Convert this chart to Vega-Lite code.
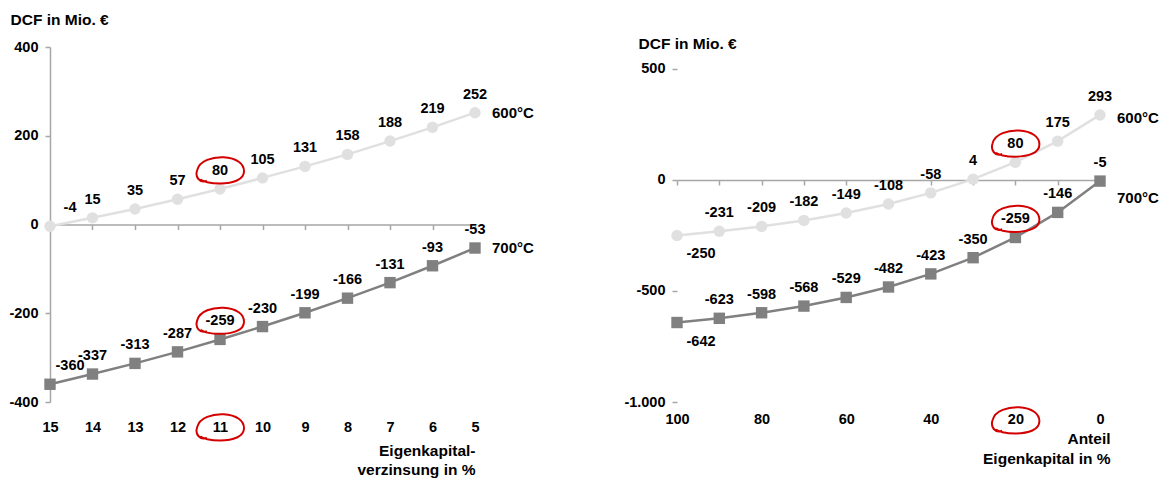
{
  "$schema": "https://vega.github.io/schema/vega-lite/v6.json",
  "padding": {"left": 8, "top": 12, "right": 0, "bottom": 0},
  "bounds": "flush",
  "spacing": 202,
  "config": {
    "font": "Liberation Sans",
    "view": {"stroke": null},
    "axis": {"labelFont": "Liberation Sans", "labelFontSize": 14.5, "labelFontWeight": "bold", "labelColor": "#000000", "labelFlush": false, "titleFont": "Liberation Sans", "titleFontSize": 15.5, "titleFontWeight": "bold", "titleColor": "#000000", "domainColor": "#a6a6a6", "domainWidth": 1.5, "tickColor": "#a6a6a6", "tickWidth": 1.5, "tickSize": 5, "grid": false},
    "text": {"font": "Liberation Sans", "fontSize": 14.5, "fontWeight": "bold", "color": "#000000"}
  },
  "hconcat": [
    {
      "width": 425,
      "height": 355,
      "data": {"values": [
        {"rate": 15, "series": "600°C", "dcf": -4},
        {"rate": 14, "series": "600°C", "dcf": 15},
        {"rate": 13, "series": "600°C", "dcf": 35},
        {"rate": 12, "series": "600°C", "dcf": 57},
        {"rate": 11, "series": "600°C", "dcf": 80},
        {"rate": 10, "series": "600°C", "dcf": 105},
        {"rate": 9, "series": "600°C", "dcf": 131},
        {"rate": 8, "series": "600°C", "dcf": 158},
        {"rate": 7, "series": "600°C", "dcf": 188},
        {"rate": 6, "series": "600°C", "dcf": 219},
        {"rate": 5, "series": "600°C", "dcf": 252},
        {"rate": 15, "series": "700°C", "dcf": -360},
        {"rate": 14, "series": "700°C", "dcf": -337},
        {"rate": 13, "series": "700°C", "dcf": -313},
        {"rate": 12, "series": "700°C", "dcf": -287},
        {"rate": 11, "series": "700°C", "dcf": -259},
        {"rate": 10, "series": "700°C", "dcf": -230},
        {"rate": 9, "series": "700°C", "dcf": -199},
        {"rate": 8, "series": "700°C", "dcf": -166},
        {"rate": 7, "series": "700°C", "dcf": -131},
        {"rate": 6, "series": "700°C", "dcf": -93},
        {"rate": 5, "series": "700°C", "dcf": -53}
      ]},
      "encoding": {
        "x": {"field": "rate", "type": "quantitative",
          "scale": {"domain": [5, 15], "reverse": true, "nice": false, "zero": false},
          "axis": {"values": [5, 6, 7, 8, 9, 10, 11, 12, 13, 14, 15], "offset": -177.5, "labelPadding": 191, "labelExpr": "toString(datum.value)",
            "title": ["Eigenkapital-", "verzinsung in %"], "titleX": 425, "titleY": 219, "titleAlign": "right", "titleBaseline": "top", "titleLineHeight": 19}},
        "y": {"field": "dcf", "type": "quantitative",
          "scale": {"domain": [-400, 400], "nice": false},
          "axis": {"values": [-400, -200, 0, 200, 400], "labelPadding": 7, "labelExpr": "toString(datum.value)",
            "title": "DCF in Mio. €", "titleAngle": 0, "titleX": -40, "titleY": -28, "titleAlign": "left", "titleBaseline": "middle"}},
        "color": {"field": "series", "type": "nominal", "scale": {"domain": ["600°C", "700°C"], "range": ["#e0e0e0", "#808080"]}, "legend": null}
      },
      "layer": [
        {"mark": {"type": "line", "strokeWidth": 2.5}},
        {"mark": {"type": "point", "filled": true, "opacity": 1, "size": 130},
          "encoding": {"shape": {"field": "series", "type": "nominal", "scale": {"domain": ["600°C", "700°C"], "range": ["circle", "square"]}, "legend": null}}},
        {"transform": [{"filter": "datum.rate != 15"}],
          "mark": {"type": "text", "dy": -18, "baseline": "middle"},
          "encoding": {"text": {"field": "dcf", "type": "nominal"}, "color": {"value": "#000000"}}},
        {"transform": [{"filter": "datum.rate == 15"}],
          "mark": {"type": "text", "dx": 20, "dy": -18, "baseline": "middle"},
          "encoding": {"text": {"field": "dcf", "type": "nominal"}, "color": {"value": "#000000"}}},
        {"transform": [{"filter": "datum.rate == 5"}],
          "mark": {"type": "text", "dx": 17, "align": "left", "baseline": "middle", "fontSize": 15},
          "encoding": {"text": {"field": "series", "type": "nominal"}, "color": {"value": "#000000"}}},
        {"transform": [{"filter": "datum.rate == 11"}],
          "mark": {"type": "point", "shape": "M -0.55 0.45 C -0.85 0.55 -1.05 0.3 -0.95 0.0 C -0.85 -0.4 -0.3 -0.55 0.15 -0.53 C 0.7 -0.5 1.0 -0.25 1.0 0.05 C 1.0 0.4 0.55 0.56 0.0 0.56 C -0.4 0.56 -0.75 0.48 -0.8 0.38", "filled": false, "opacity": 1, "strokeWidth": 2, "size": 2304, "clip": false},
          "encoding": {"color": {"value": "#d40000"}, "yOffset": {"value": -19}}},
        {"transform": [{"filter": "datum.rate == 11 && datum.series == '700°C'"}],
          "mark": {"type": "point", "shape": "M -0.55 0.45 C -0.85 0.55 -1.05 0.3 -0.95 0.0 C -0.85 -0.4 -0.3 -0.55 0.15 -0.53 C 0.7 -0.5 1.0 -0.25 1.0 0.05 C 1.0 0.4 0.55 0.56 0.0 0.56 C -0.4 0.56 -0.75 0.48 -0.8 0.38", "filled": false, "opacity": 1, "strokeWidth": 2, "size": 2304, "clip": false},
          "encoding": {"y": {"datum": -400, "type": "quantitative"}, "color": {"value": "#d40000"}, "yOffset": {"value": 25}}}
      ]
    },
    {
      "width": 423,
      "height": 355,
      "data": {"values": [
        {"share": 100, "series": "600°C", "dcf": -250},
        {"share": 90, "series": "600°C", "dcf": -231},
        {"share": 80, "series": "600°C", "dcf": -209},
        {"share": 70, "series": "600°C", "dcf": -182},
        {"share": 60, "series": "600°C", "dcf": -149},
        {"share": 50, "series": "600°C", "dcf": -108},
        {"share": 40, "series": "600°C", "dcf": -58},
        {"share": 30, "series": "600°C", "dcf": 4},
        {"share": 20, "series": "600°C", "dcf": 80},
        {"share": 10, "series": "600°C", "dcf": 175},
        {"share": 0, "series": "600°C", "dcf": 293},
        {"share": 100, "series": "700°C", "dcf": -642},
        {"share": 90, "series": "700°C", "dcf": -623},
        {"share": 80, "series": "700°C", "dcf": -598},
        {"share": 70, "series": "700°C", "dcf": -568},
        {"share": 60, "series": "700°C", "dcf": -529},
        {"share": 50, "series": "700°C", "dcf": -482},
        {"share": 40, "series": "700°C", "dcf": -423},
        {"share": 30, "series": "700°C", "dcf": -350},
        {"share": 20, "series": "700°C", "dcf": -259},
        {"share": 10, "series": "700°C", "dcf": -146},
        {"share": 0, "series": "700°C", "dcf": -5}
      ]},
      "encoding": {
        "x": {"field": "share", "type": "quantitative",
          "scale": {"domain": [0, 100], "reverse": true, "nice": false, "zero": false},
          "axis": {"values": [0, 10, 20, 30, 40, 50, 60, 70, 80, 90, 100], "offset": -222, "labelPadding": 227, "labelExpr": "datum.value % 20 == 0 ? toString(datum.value) : ''",
            "title": ["Anteil", "Eigenkapital in %"], "titleX": 433, "titleY": 251, "titleAlign": "right", "titleBaseline": "top", "titleLineHeight": 20}},
        "y": {"field": "dcf", "type": "quantitative",
          "scale": {"domain": [-1000, 599], "nice": false},
          "axis": {"values": [-1000, -500, 0, 500], "domain": false, "labelPadding": 7, "labelExpr": "datum.value <= -1000 ? '-1.000' : toString(datum.value)",
            "title": "DCF in Mio. €", "titleAngle": 0, "titleX": -39, "titleY": -4, "titleAlign": "left", "titleBaseline": "middle"}},
        "color": {"field": "series", "type": "nominal", "scale": {"domain": ["600°C", "700°C"], "range": ["#e0e0e0", "#808080"]}, "legend": null}
      },
      "layer": [
        {"data": {"values": [{}]},
          "mark": {"type": "rule", "strokeWidth": 1.5},
          "encoding": {"x": {"datum": 100}, "y": {"datum": -1000}, "y2": {"datum": 500}, "color": {"value": "#a6a6a6"}}},
        {"mark": {"type": "line", "strokeWidth": 2.5}},
        {"mark": {"type": "point", "filled": true, "opacity": 1, "size": 130},
          "encoding": {"shape": {"field": "series", "type": "nominal", "scale": {"domain": ["600°C", "700°C"], "range": ["circle", "square"]}, "legend": null}}},
        {"transform": [{"filter": "datum.share != 100"}],
          "mark": {"type": "text", "dy": -18, "baseline": "middle"},
          "encoding": {"text": {"field": "dcf", "type": "nominal"}, "color": {"value": "#000000"}}},
        {"transform": [{"filter": "datum.share == 100"}],
          "mark": {"type": "text", "dx": 24, "dy": 19, "baseline": "middle"},
          "encoding": {"text": {"field": "dcf", "type": "nominal"}, "color": {"value": "#000000"}}},
        {"transform": [{"filter": "datum.share == 0 && datum.series == '600°C'"}],
          "mark": {"type": "text", "dx": 17, "dy": 3, "align": "left", "baseline": "middle", "fontSize": 15},
          "encoding": {"text": {"field": "series", "type": "nominal"}, "color": {"value": "#000000"}}},
        {"transform": [{"filter": "datum.share == 0 && datum.series == '700°C'"}],
          "mark": {"type": "text", "dx": 17, "dy": 17, "align": "left", "baseline": "middle", "fontSize": 15},
          "encoding": {"text": {"field": "series", "type": "nominal"}, "color": {"value": "#000000"}}},
        {"transform": [{"filter": "datum.share == 20"}],
          "mark": {"type": "point", "shape": "M -0.55 0.45 C -0.85 0.55 -1.05 0.3 -0.95 0.0 C -0.85 -0.4 -0.3 -0.55 0.15 -0.53 C 0.7 -0.5 1.0 -0.25 1.0 0.05 C 1.0 0.4 0.55 0.56 0.0 0.56 C -0.4 0.56 -0.75 0.48 -0.8 0.38", "filled": false, "opacity": 1, "strokeWidth": 2, "size": 2304, "clip": false},
          "encoding": {"color": {"value": "#d40000"}, "yOffset": {"value": -19}}},
        {"transform": [{"filter": "datum.share == 20 && datum.series == '700°C'"}],
          "mark": {"type": "point", "shape": "M -0.55 0.45 C -0.85 0.55 -1.05 0.3 -0.95 0.0 C -0.85 -0.4 -0.3 -0.55 0.15 -0.53 C 0.7 -0.5 1.0 -0.25 1.0 0.05 C 1.0 0.4 0.55 0.56 0.0 0.56 C -0.4 0.56 -0.75 0.48 -0.8 0.38", "filled": false, "opacity": 1, "strokeWidth": 2, "size": 2304, "clip": false},
          "encoding": {"y": {"datum": -1000, "type": "quantitative"}, "color": {"value": "#d40000"}, "yOffset": {"value": 18}}}
      ]
    }
  ]
}
